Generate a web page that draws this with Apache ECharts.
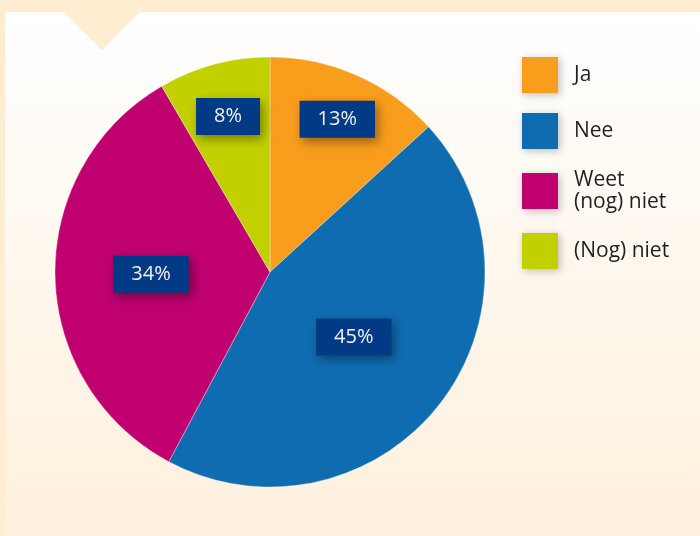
<!DOCTYPE html>
<html>
<head>
<meta charset="utf-8">
<script src="https://cdn.jsdelivr.net/npm/echarts@6/dist/echarts.min.js"></script>
<style>
  html, body { margin: 0; padding: 0; background: #FFEDD2; }
  #chart { width: 700px; height: 536px; }
</style>
</head>
<body>
<div id="chart"></div>
<script>
var categories = ['Ja', 'Nee', 'Weet\n(nog) niet', '(Nog) niet']
var values = [13.2, 44.6, 33.8, 8.4]
var colors = ['#F99D1C', '#0F6CB1', '#C0006F', '#C3D000']

// layout: pie centre / radius, and how far out each label box sits
var cx = 270
var cy = 272
var radius = 215
var labelRadius = [167, 106, 119, 161]

var total = values.reduce(function (a, b) { return a + b }, 0)

function midAngle(idx) {
  var before = 0
  for (var i = 0; i < idx; i++) before += values[i]
  return ((before + values[idx] / 2) / total) * Math.PI * 2
}

var chart = echarts.init(document.getElementById('chart'))

chart.setOption({
  animation: false,
  backgroundColor: '#FFEDD2',
  graphic: [
    {
      type: 'rect',
      z: -10,
      shape: { x: 5, y: 12, width: 695, height: 524 },
      style: {
        fill: new echarts.graphic.LinearGradient(0, 0, 0, 1, [
          { offset: 0, color: '#FFFFFF' },
          { offset: 1, color: '#FEF0DC' }
        ])
      }
    },
    {
      type: 'polygon',
      z: -9,
      shape: { points: [[64, 12], [140, 12], [102, 50]] },
      style: { fill: '#FFEDD2' }
    }
  ],
  legend: {
    orient: 'vertical',
    left: 522,
    top: 57,
    padding: 0,
    icon: 'rect',
    itemWidth: 36,
    itemHeight: 36,
    itemGap: 20,
    selectedMode: false,
    itemStyle: {
      borderWidth: 0,
      shadowBlur: 8,
      shadowColor: 'rgba(0,0,0,0.25)',
      shadowOffsetX: 2,
      shadowOffsetY: 2
    },
    textStyle: {
      fontFamily: 'Open Sans',
      fontSize: 21,
      lineHeight: 22,
      color: '#231F20',
      padding: [0, 0, 0, 11]
    },
    data: categories
  },
  series: [{
    type: 'pie',
    center: [cx, cy],
    radius: radius,
    startAngle: 90,
    clockwise: true,
    avoidLabelOverlap: false,
    itemStyle: {
      borderColor: 'rgba(255,255,255,0.55)',
      borderWidth: 0.6
    },
    label: {
      show: true,
      position: 'inside',
      formatter: function (p) { return Math.round(p.value) + '%' },
      fontFamily: 'Open Sans',
      fontSize: 20,
      color: '#F2F2F2',
      backgroundColor: '#023A86',
      padding: [9, 18, 8, 18],
      shadowBlur: 10,
      shadowColor: 'rgba(0,0,0,0.4)',
      shadowOffsetX: 3,
      shadowOffsetY: 4
    },
    labelLine: { show: false },
    labelLayout: function (params) {
      var a = midAngle(params.dataIndex)
      var r = labelRadius[params.dataIndex]
      return {
        x: cx + r * Math.sin(a),
        y: cy - r * Math.cos(a),
        align: 'center',
        verticalAlign: 'middle'
      }
    },
    data: categories.map(function (name, i) {
      return { name: name, value: values[i], itemStyle: { color: colors[i] } }
    })
  }]
})
</script>
</body>
</html>
